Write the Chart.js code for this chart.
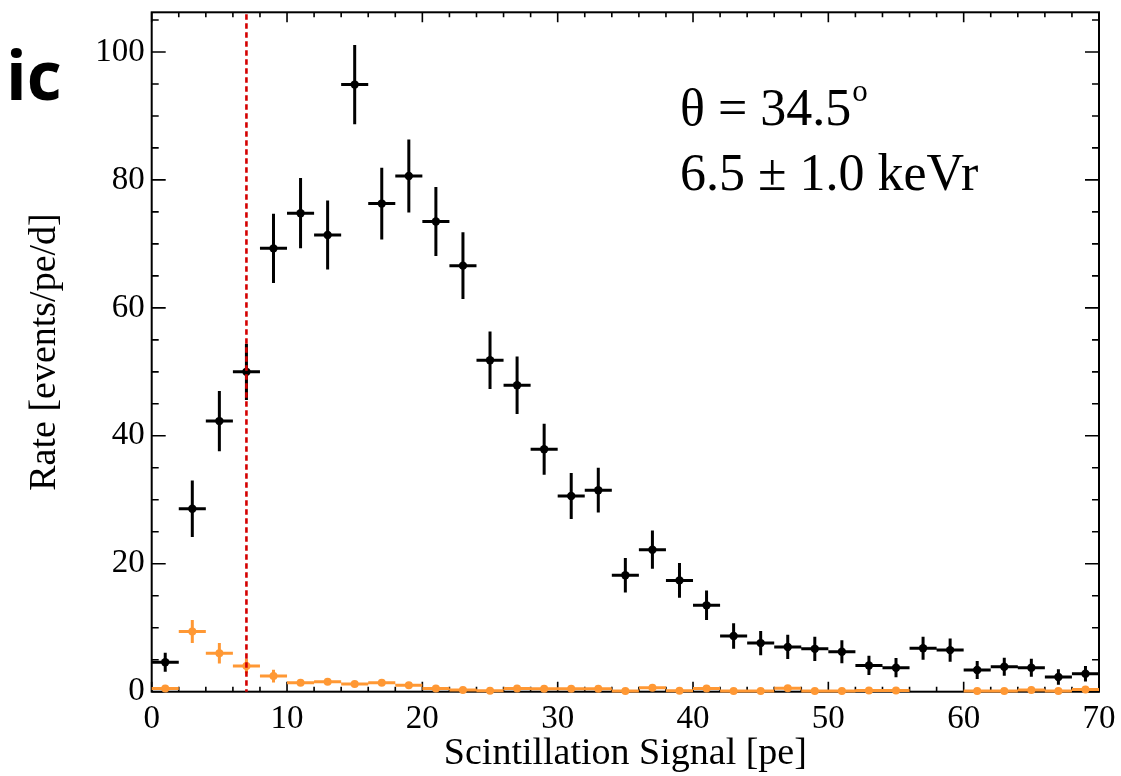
<!DOCTYPE html>
<html>
<head>
<meta charset="utf-8">
<script src="https://cdn.jsdelivr.net/npm/chart.js@4.4.1/dist/chart.umd.min.js"></script>
<style>
html,body{margin:0;padding:0;background:#fff;}
#wrap{width:1121px;height:776px;position:relative;overflow:hidden;}
canvas{display:block;}
</style>
</head>
<body>
<div id="wrap"><canvas id="c" width="1121" height="776"></canvas></div>
<script>
// ---- data (bin centres in pe, bin width 2 pe) ----
const binCenters = [1,3,5,7,9,11,13,15,17,19,21,23,25,27,29,31,33,35,37,39,41,43,45,47,49,51,53,55,57,59,61,63,65,67,69];
const signalRate = [4.6,28.6,42.3,50.0,69.3,74.8,71.4,94.9,76.3,80.6,73.5,66.6,51.8,47.9,37.9,30.6,31.5,18.2,22.2,17.4,13.5,8.7,7.6,7.0,6.7,6.25,4.1,3.75,6.8,6.5,3.4,3.9,3.75,2.3,2.8];
const signalErr  = [1.5,4.4,4.7,4.4,5.4,5.5,5.4,6.2,5.6,5.7,5.4,5.2,4.5,4.5,4.0,3.6,3.5,2.7,3.0,2.7,2.3,2.0,1.9,1.9,1.9,1.8,1.5,1.5,1.8,1.8,1.4,1.4,1.4,1.2,1.2];
const bkgRate = [0.5,9.4,6.0,4.0,2.45,1.4,1.55,1.2,1.4,1.0,0.5,0.25,0.15,0.5,0.45,0.45,0.45,0.1,0.6,0.15,0.5,0.1,0.1,0.55,0.1,0.1,0.2,0.2,null,null,0.1,0.1,0.25,0.1,0.35];
const bkgErr  = [0.2,1.8,1.6,1.1,1.0,0.5,0.5,0.4,0.4,0.35,0.3,0.2,0.15,0.3,0.3,0.3,0.3,0.1,0.3,0.15,0.3,0.1,0.1,0.3,0.1,0.1,0.15,0.15,null,null,0.1,0.1,0.2,0.1,0.2];
const binHalfWidth = 1;
const thresholdPe = 7;
const xTickValues = [0,10,20,30,40,50,60,70];
const yTickValues = [0,20,40,60,80,100];
const xMinorStep = 2;
const yMinorStep = 5;
const xRange = [0,70];
const yRange = [0,106.2];
const annotationLine1 = 'θ = 34.5';
const annotationSup = 'o';
const annotationLine2 = '6.5 ± 1.0 keVr';
const panelLabel = 'ic';
const xTitle = 'Scintillation Signal [pe]';
const yTitle = 'Rate [events/pe/d]';

const BLACK = '#000000';
const ORANGE = 'rgb(255,152,52)';
const RED = 'rgb(212,0,0)';
const SERIF = '"Liberation Serif", "Times New Roman", serif';

const histPlugin = {
  id: 'histPlugin',
  beforeDatasetsDraw(chart) {
    const {ctx, chartArea: a, scales: {x, y}} = chart;
    ctx.save();
    // frame
    ctx.strokeStyle = '#000';
    ctx.lineWidth = 2;
    ctx.strokeRect(a.left, a.top, a.right - a.left, a.bottom - a.top);
    // ticks
    ctx.lineWidth = 1.6;
    ctx.beginPath();
    for (let v = xRange[0]; v <= xRange[1] + 1e-9; v += xMinorStep) {
      const px = x.getPixelForValue(v);
      const major = xTickValues.includes(v);
      const len = major ? 10 : 5;
      ctx.moveTo(px, a.bottom); ctx.lineTo(px, a.bottom - len);
      ctx.moveTo(px, a.top); ctx.lineTo(px, a.top + len);
    }
    for (let v = yRange[0]; v <= yRange[1] + 1e-9; v += yMinorStep) {
      const py = y.getPixelForValue(v);
      const major = yTickValues.includes(v);
      const len = major ? 14 : 7;
      ctx.moveTo(a.left, py); ctx.lineTo(a.left + len, py);
      ctx.moveTo(a.right, py); ctx.lineTo(a.right - len, py);
    }
    ctx.stroke();
    // error bars
    chart.data.datasets.forEach((ds) => {
      ctx.strokeStyle = ds.borderColor;
      ctx.lineWidth = 3;
      ctx.beginPath();
      ds.data.forEach((pt, i) => {
        if (pt.y == null) return;
        const e = ds.errors[i] || 0;
        const x0 = x.getPixelForValue(pt.x - binHalfWidth);
        const x1 = x.getPixelForValue(pt.x + binHalfWidth);
        const px = x.getPixelForValue(pt.x);
        const py = y.getPixelForValue(pt.y);
        ctx.moveTo(x0, py); ctx.lineTo(x1, py);
        if (e > 0) {
          ctx.moveTo(px, y.getPixelForValue(pt.y + e));
          ctx.lineTo(px, y.getPixelForValue(Math.max(pt.y - e, 0)));
        }
      });
      ctx.stroke();
    });
    ctx.restore();
  },
  afterDatasetsDraw(chart) {
    const {ctx, chartArea: a, scales: {x, y}} = chart;
    ctx.save();
    // threshold line
    const tx = x.getPixelForValue(thresholdPe);
    ctx.strokeStyle = RED;
    ctx.lineWidth = 2.6;
    ctx.setLineDash([5.5, 3.5]);
    ctx.beginPath();
    ctx.moveTo(tx, a.top + 2);
    ctx.lineTo(tx, a.bottom);
    ctx.stroke();
    ctx.setLineDash([]);
    // annotation
    ctx.fillStyle = '#000';
    ctx.textBaseline = 'alphabetic';
    ctx.textAlign = 'left';
    ctx.font = '52px ' + SERIF;
    ctx.fillText(annotationLine1, 680, 125);
    const w1 = ctx.measureText(annotationLine1).width;
    ctx.font = '31px ' + SERIF;
    ctx.fillText(annotationSup, 680 + w1 + 1, 101);
    ctx.font = '52px ' + SERIF;
    ctx.fillText(annotationLine2, 680, 190);
    // panel label
    ctx.font = 'bold 68px "Open Sans", "DejaVu Sans", sans-serif';
    ctx.fillText(panelLabel, 6, 100);
    ctx.restore();
  }
};

new Chart(document.getElementById('c'), {
  type: 'scatter',
  data: {
    datasets: [
      {
        label: 'background',
        data: binCenters.map((xv, i) => ({x: xv, y: bkgRate[i]})),
        errors: bkgErr,
        borderColor: ORANGE,
        backgroundColor: ORANGE,
        pointRadius: 4,
        pointHoverRadius: 4,
        pointBorderWidth: 0,
        showLine: false,
        clip: false
      },
      {
        label: 'signal',
        data: binCenters.map((xv, i) => ({x: xv, y: signalRate[i]})),
        errors: signalErr,
        borderColor: BLACK,
        backgroundColor: BLACK,
        pointRadius: 4.2,
        pointHoverRadius: 4.2,
        pointBorderWidth: 0,
        showLine: false,
        clip: false
      }
    ]
  },
  options: {
    responsive: false,
    animation: false,
    events: [],
    layout: {padding: {left: 0, right: 22, top: 12.3, bottom: 0}},
    plugins: {legend: {display: false}, tooltip: {enabled: false}},
    scales: {
      x: {
        type: 'linear',
        min: xRange[0], max: xRange[1],
        afterBuildTicks: s => { s.ticks = xTickValues.map(v => ({value: v})); },
        afterFit: s => { s.height = 84.3; s.paddingLeft = 0; s.paddingRight = 0; },
        grid: {display: false, drawTicks: false},
        border: {display: false},
        ticks: {color: '#000', font: {family: SERIF, size: 33}, padding: 8, maxRotation: 0, autoSkip: false},
        title: {display: true, text: xTitle, color: '#000', font: {family: SERIF, size: 38}, padding: {top: 0, bottom: -1}}
      },
      y: {
        type: 'linear',
        min: yRange[0], max: yRange[1],
        afterBuildTicks: s => { s.ticks = yTickValues.map(v => ({value: v})); },
        afterFit: s => { s.width = 151.7; s.paddingTop = 0; s.paddingBottom = 0; },
        grid: {display: false, drawTicks: false},
        border: {display: false},
        ticks: {color: '#000', font: {family: SERIF, size: 33}, padding: 7, autoSkip: false},
        title: {display: true, text: yTitle, color: '#000', font: {family: SERIF, size: 38}, padding: {top: 22, bottom: 0}}
      }
    }
  },
  plugins: [histPlugin]
});
</script>
</body>
</html>
